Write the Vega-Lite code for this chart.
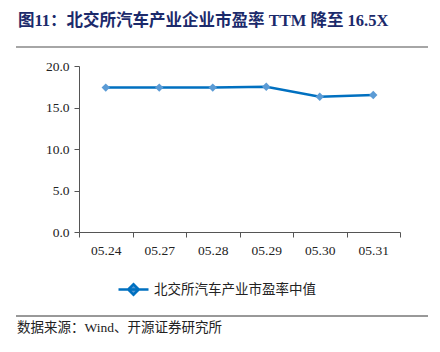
{
  "$schema": "https://vega.github.io/schema/vega-lite/v6.json",
  "autosize": "none",
  "width": 321,
  "height": 166,
  "padding": {"left": 79, "top": 66, "right": 40, "bottom": 120},
  "background": "white",
  "config": {"view": {"stroke": null}},
  "title": {
    "text": "图11：北交所汽车产业企业市盈率 TTM 降至 16.5X",
    "anchor": "start",
    "frame": "group",
    "dx": -61,
    "dy": -7,
    "offset": 10,
    "font": "Liberation Serif, Noto Sans CJK SC",
    "fontSize": 16.5,
    "fontWeight": "bold",
    "color": "#1B2A6B"
  },
  "data": {
    "values": [
      {"date": "05.24", "value": 17.4, "series": "北交所汽车产业市盈率中值"},
      {"date": "05.27", "value": 17.4, "series": "北交所汽车产业市盈率中值"},
      {"date": "05.28", "value": 17.4, "series": "北交所汽车产业市盈率中值"},
      {"date": "05.29", "value": 17.5, "series": "北交所汽车产业市盈率中值"},
      {"date": "05.30", "value": 16.3, "series": "北交所汽车产业市盈率中值"},
      {"date": "05.31", "value": 16.5, "series": "北交所汽车产业市盈率中值"}
    ]
  },
  "layer": [
    {
      "mark": {"type": "line", "strokeWidth": 2.5, "color": "#0070C0"},
      "encoding": {
        "x": {
          "field": "date", "type": "ordinal",
          "scale": {"type": "band", "paddingInner": 0, "paddingOuter": 0},
          "axis": {
            "title": null, "labelAngle": 0, "tickBand": "extent",
            "domainColor": "#555555", "tickColor": "#555555", "tickSize": 5,
            "labelFont": "Liberation Serif", "labelFontSize": 13.5, "labelColor": "#222222",
            "labelPadding": 6
          }
        },
        "y": {
          "field": "value", "type": "quantitative",
          "scale": {"domain": [0, 20]},
          "axis": {
            "title": null, "grid": false, "values": [0, 5, 10, 15, 20], "format": ".1f",
            "labelOverlap": false, "labelBound": false, "labelFlush": false,
            "domainColor": "#555555", "tickColor": "#555555", "tickSize": 5,
            "labelFont": "Liberation Serif", "labelFontSize": 13.5, "labelColor": "#222222",
            "labelPadding": 5
          }
        },
        "color": {
          "field": "series", "type": "nominal",
          "scale": {"range": ["#0070C0"]},
          "legend": {
            "title": null, "orient": "none", "legendX": 38, "legendY": 207,
            "symbolType": "M-1,0H1M-0.35,0L0,-0.35L0.35,0L0,0.35Z",
            "symbolSize": 900, "symbolStrokeWidth": 2.5,
            "symbolFillColor": "#5B9BD5",
            "labelFont": "Noto Sans CJK SC", "labelFontSize": 13.5, "labelColor": "#222222",
            "labelFontWeight": "normal", "labelLimit": 400,
            "labelOffset": 4
          }
        }
      }
    },
    {
      "mark": {"type": "point", "shape": "diamond", "filled": true, "size": 70, "color": "#5B9BD5", "opacity": 1},
      "encoding": {
        "x": {"field": "date", "type": "ordinal"},
        "y": {"field": "value", "type": "quantitative"}
      }
    },
    {
      "data": {"values": [{"k": 1}]},
      "mark": {"type": "rule", "color": "#888888", "strokeWidth": 1.5},
      "encoding": {"x": {"value": -63}, "x2": {"value": 349}, "y": {"value": -19}}
    },
    {
      "data": {"values": [{"k": 1}]},
      "mark": {"type": "rule", "color": "#333333", "strokeWidth": 1},
      "encoding": {"x": {"value": -63}, "x2": {"value": 349}, "y": {"value": 250}}
    },
    {
      "data": {"values": [{"k": 1}]},
      "mark": {"type": "text", "align": "left", "baseline": "middle", "font": "Liberation Serif, Noto Sans CJK SC", "fontSize": 13.5, "fontWeight": "normal", "color": "#222222"},
      "encoding": {"x": {"value": -62}, "y": {"value": 262}, "text": {"value": "数据来源：Wind、开源证券研究所"}}
    }
  ]
}
